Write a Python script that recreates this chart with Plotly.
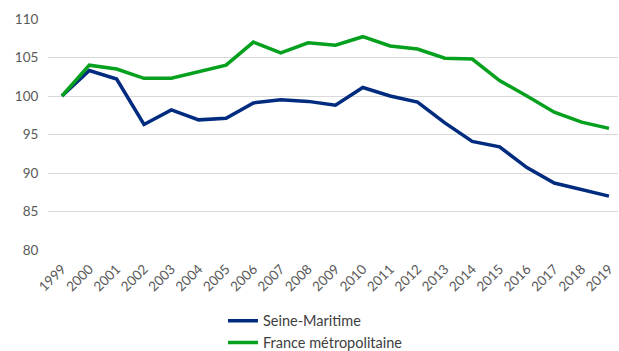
import plotly.graph_objects as go

years = [str(y) for y in range(1999, 2020)]
seine_maritime = [100, 103.3, 102.2, 96.3, 98.2, 96.9, 97.1, 99.1, 99.5, 99.3, 98.8,
                  101.1, 100.0, 99.2, 96.5, 94.1, 93.4, 90.7, 88.7, 87.8, 87.0]
france_metro = [100, 104.0, 103.5, 102.3, 102.3, 103.1, 104.0, 107.0, 105.6, 106.9, 106.6,
                107.7, 106.5, 106.1, 104.9, 104.8, 102.0, 100.0, 97.9, 96.6, 95.8]
y_ticks = [80, 85, 90, 95, 100, 105, 110]

fig = go.Figure()
fig.add_trace(go.Scatter(x=years, y=seine_maritime, mode="lines", name="Seine-Maritime",
                         line=dict(color="#002B7F", width=3.5)))
fig.add_trace(go.Scatter(x=years, y=france_metro, mode="lines", name="France métropolitaine",
                         line=dict(color="#05A01E", width=3.5)))

fig.update_layout(
    width=619, height=351,
    margin=dict(l=48, r=1, t=19, b=101, autoexpand=False),
    plot_bgcolor="white", paper_bgcolor="white",
    font=dict(family="Lato, Open Sans, sans-serif", color="#595959", size=12),
    xaxis=dict(type="category", range=[-0.51, 20.33], showgrid=False, showline=False,
               tickangle=-45, tickfont=dict(size=13.5), zeroline=False, automargin=False,
               ticks="outside", ticklen=5, tickcolor="white"),
    yaxis=dict(range=[80, 110], tickvals=y_ticks, showgrid=True, gridcolor="#D9D9D9",
               gridwidth=1, zeroline=False, showline=False, tickfont=dict(size=13.5),
               automargin=False, ticks="outside", ticklen=6, tickcolor="white"),
    legend=dict(orientation="v", x=0.307, xanchor="left", y=-0.237, yanchor="top",
                font=dict(size=14.5, color="#404040"), tracegroupgap=0, itemwidth=30),
    showlegend=True,
)

fig.write_html("out.html")
